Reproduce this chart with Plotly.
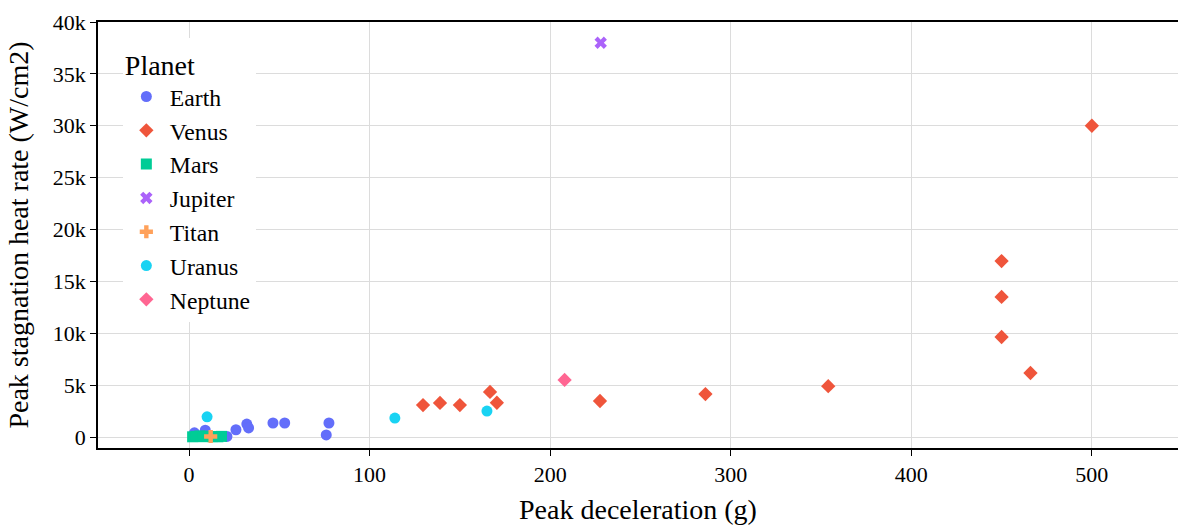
import plotly.graph_objects as go

# Peak deceleration (g) and peak stagnation heat rate (W/cm2) per planet
earth_g = [3, 9, 21, 26, 32, 33, 46.5, 53, 77.5, 76]
earth_q = [400, 650, 50, 700, 1250, 870, 1350, 1350, 1350, 200]

venus_g = [129.6, 139, 150, 166.7, 170.5, 227.6, 286, 354, 450, 450, 450, 466, 500]
venus_q = [3080, 3280, 3080, 4340, 3300, 3470, 4140, 4900, 16960, 13500, 9640, 6170, 30000]

mars_g = [2, 4, 6, 8, 10, 13, 16, 18]
mars_q = [20, 60, 100, 30, 80, 40, 20, 60]

jupiter_g = [228]
jupiter_q = [38000]

titan_g = [12]
titan_q = [50]

uranus_g = [10, 114, 165]
uranus_q = [1950, 1830, 2500]

neptune_g = [208]
neptune_q = [5500]

series = [
    ("Earth", earth_g, earth_q, "#636efa", "circle"),
    ("Venus", venus_g, venus_q, "#EF553B", "diamond"),
    ("Mars", mars_g, mars_q, "#00cc96", "square"),
    ("Jupiter", jupiter_g, jupiter_q, "#ab63fa", "x"),
    ("Titan", titan_g, titan_q, "#FFA15A", "cross"),
    ("Uranus", uranus_g, uranus_q, "#19d3f3", "circle"),
    ("Neptune", neptune_g, neptune_q, "#FF6692", "diamond"),
]

fig = go.Figure()
for name, xs, ys, color, symbol in series:
    fig.add_trace(go.Scatter(
        x=xs, y=ys, mode="markers", name=name,
        marker=dict(color=color, symbol=symbol, size=11, line=dict(width=0)),
    ))

SERIF = "Times New Roman, Liberation Serif, DejaVu Serif, serif"

axis_common = dict(
    showline=True, linecolor="black", linewidth=1.5,
    ticks="outside", ticklen=6, tickcolor="black",
    showgrid=True, gridcolor="#dcdcdc", gridwidth=1,
    zeroline=False, tickfont=dict(size=22),
)

fig.update_layout(
    width=1178, height=525,
    margin=dict(l=98, r=0, t=22, b=77),
    paper_bgcolor="white", plot_bgcolor="white",
    font=dict(family=SERIF, color="black", size=22),
    xaxis=dict(
        range=[-50.4, 547.7], dtick=100,
        title=dict(text="Peak deceleration (g)", font=dict(size=28), standoff=18),
        mirror=True, **axis_common,
    ),
    yaxis=dict(
        range=[-1060, 40000], dtick=5000, tickformat="~s",
        title=dict(text="Peak stagnation heat rate (W/cm2)", font=dict(size=28), standoff=16),
        **axis_common,
    ),
    legend=dict(
        title=dict(text="Planet", font=dict(size=28)),
        x=0.023, y=0.962, xanchor="left", yanchor="top",
        bgcolor="white", font=dict(size=23.7), itemwidth=37,
    ),
)

fig.write_html("out.html")
